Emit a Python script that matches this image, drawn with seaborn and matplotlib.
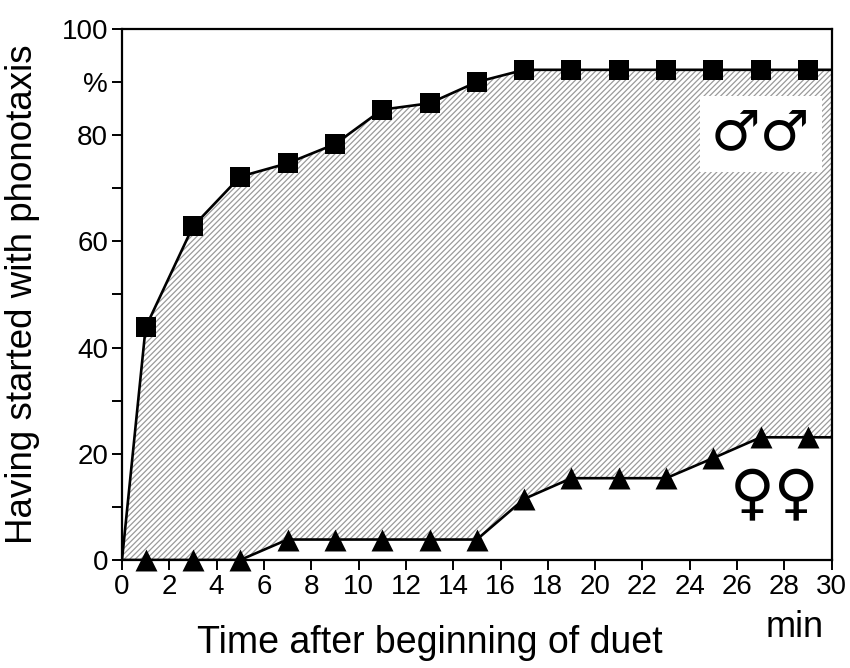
import numpy as np
import pandas as pd
import matplotlib
matplotlib.use("Agg")
import matplotlib.pyplot as plt
import seaborn as sns

# valeurs (minutes, % ayant commencé la phonotaxie)
temps = [1, 3, 5, 7, 9, 11, 13, 15, 17, 19, 21, 23, 25, 27, 29]
males = [43.8, 62.8, 72.2, 74.7, 78.3, 84.8, 86.0, 90.0, 92.3, 92.3, 92.3, 92.3, 92.3, 92.3, 92.3]
femelles = [0, 0, 0, 3.85, 3.85, 3.85, 3.85, 3.85, 11.5, 15.4, 15.4, 15.4, 19.2, 23.1, 23.1]
xticks = list(range(0, 31, 2))
yticks = list(range(0, 101, 10))
ylabels = ['0', '', '20', '', '40', '', '60', '', '80', '%', '100']

sns.set_style("ticks")
plt.rcParams['font.family'] = ['Liberation Sans', 'DejaVu Sans']
plt.rcParams['text.color'] = 'black'
plt.rcParams['axes.labelcolor'] = 'black'
plt.rcParams['xtick.color'] = 'black'
plt.rcParams['ytick.color'] = 'black'
plt.rcParams['hatch.color'] = '#9a9a9a'
plt.rcParams['hatch.linewidth'] = 0.9

# courbes prolongées jusqu'à 0 et 30 min
t_ext = [0] + temps + [30]
m_ext = [0] + males + [males[-1]]
f_ext = [0] + femelles + [femelles[-1]]

df = pd.DataFrame({'temps': temps, 'males': males, 'femelles': femelles})

fig = plt.figure(figsize=(8.5, 6.68), dpi=100)
ax = fig.add_axes([0.1435, 0.1617, 0.835, 0.795])

ax.fill_between(t_ext, f_ext, m_ext, facecolor='white', edgecolor='#9a9a9a',
                hatch='//////', linewidth=0, zorder=1)

sns.lineplot(x=t_ext, y=m_ext, color='black', linewidth=1.9, ax=ax, zorder=3)
sns.lineplot(x=t_ext, y=f_ext, color='black', linewidth=1.9, ax=ax, zorder=3)
sns.scatterplot(data=df, x='temps', y='males', marker='s', s=200, color='black',
                edgecolor='black', linewidth=0, ax=ax, zorder=4, clip_on=False)
sns.scatterplot(data=df, x='temps', y='femelles', marker='^', s=250, color='black',
                edgecolor='black', linewidth=0, ax=ax, zorder=4, clip_on=False)

ax.set_xlim(0, 30)
ax.set_ylim(0, 100)
ax.set_xticks(xticks)
ax.set_xticklabels([str(t) for t in xticks])
ax.set_yticks(yticks)
ax.set_yticklabels(ylabels)
ax.tick_params(axis='both', direction='out', length=7, width=1.4, labelsize=20,
               colors='black', pad=3)

for s in ax.spines.values():
    s.set_linewidth(1.6)
    s.set_color('black')
    s.set_visible(True)

ax.set_ylabel('Having started with phonotaxis', fontsize=26.5)
ax.yaxis.set_label_coords(-0.115, 0.5)
ax.set_xlabel('Time after beginning of duet', fontsize=27, va='top')
ax.xaxis.set_label_coords(0.434, -0.122)
ax.text(0.948, -0.128, 'min', transform=ax.transAxes, fontsize=26,
        ha='center', va='center')

# symboles des sexes
ax.text(27.0, 80.2, '\u2642\u2642', fontsize=40, ha='center', va='center', zorder=5,
        family='DejaVu Sans',
        bbox=dict(facecolor='white', edgecolor='none', boxstyle='square,pad=0.2'))
ax.text(27.6, 11.9, '\u2640\u2640', fontsize=44, ha='center', va='center', zorder=5,
        family='DejaVu Sans')

plt.savefig('out.png', dpi=100)
